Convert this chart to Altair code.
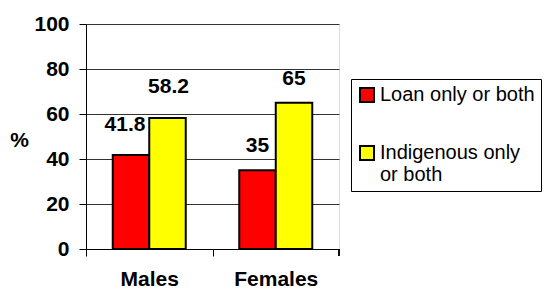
import altair as alt
import pandas as pd

categories = ["Males", "Females"]
series = ["Loan only or both", "Indigenous only or both"]
loan = [41.8, 35]
indigenous = [58.2, 65]
colors = ["#FF0000", "#FFFF00"]
y_ticks = [0, 20, 40, 60, 80, 100]

rows = []
for i, c in enumerate(categories):
    rows.append({"cat": c, "series": series[0], "value": loan[i]})
    rows.append({"cat": c, "series": series[1], "value": indigenous[i]})
df = pd.DataFrame(rows)

FONT = "Arial, Liberation Sans, sans-serif"
FS = 21
W, H = 253, 225
half_band = W / len(categories) / 2

x_enc = alt.X("cat:N", sort=categories,
              scale=alt.Scale(paddingInner=0, paddingOuter=0),
              axis=alt.Axis(title=None, labelAngle=0, labelFont=FONT, labelFontSize=FS,
                            labelFontWeight="bold", labelColor="black", labelPadding=12,
                            tickSize=7, tickColor="black", domainColor="black",
                            tickOffset=-half_band, labelOffset=half_band, grid=False))
xo_enc = alt.XOffset("series:N", sort=series,
                     scale=alt.Scale(paddingInner=0, paddingOuter=0.733))
y_enc = alt.Y("value:Q", scale=alt.Scale(domain=[0, 100], nice=False),
              axis=alt.Axis(values=y_ticks, title="%", titleAngle=0, titleFont=FONT,
                            titleFontSize=FS, titleFontWeight="bold", titleColor="black",
                            titleX=-67, titleY=116, titleAlign="center", titleBaseline="middle",
                            labelFont=FONT, labelFontSize=FS, labelFontWeight="bold",
                            labelColor="black", labelPadding=10, tickSize=7,
                            tickColor="black", domainColor="black", grid=True,
                            gridColor="#333333", gridWidth=1))

base = alt.Chart(df)

bars = base.mark_bar(stroke="black", strokeWidth=2).encode(
    x=x_enc, xOffset=xo_enc, y=y_enc,
    color=alt.Color("series:N", sort=series,
                    scale=alt.Scale(domain=series, range=colors),
                    legend=alt.Legend(title=None, orient="none", legendX=265, legendY=55,
                                      strokeColor="black", padding=6,
                                      symbolType="square", symbolSize=196,
                                      symbolStrokeColor="black", symbolStrokeWidth=2,
                                      symbolOpacity=1,
                                      labelFont=FONT, labelFontSize=20, labelColor="black",
                                      labelLimit=400, labelOffset=3, rowPadding=36,
                                      labelExpr="datum.label == 'Indigenous only or both' ? ['Indigenous only', 'or both'] : datum.label")),
)

def labels(filt, dx, dy):
    return base.transform_filter(filt).mark_text(
        font=FONT, fontSize=FS, fontWeight="bold", color="black",
        baseline="middle", dx=dx, dy=dy
    ).encode(x=x_enc, xOffset=xo_enc, y=y_enc, text=alt.Text("value:Q"))

lab1 = labels((alt.datum.cat == "Males") & (alt.datum.series == series[0]), -6, -30)
lab2 = labels((alt.datum.cat == "Males") & (alt.datum.series == series[1]), 1, -31)
lab3 = labels(alt.datum.cat == "Females", 0, -24)

end_tick = alt.Chart(df).mark_rule(color="black").encode(
    x=alt.value(W), y=alt.value(H), y2=alt.value(H + 7))

chart = alt.layer(bars, lab1, lab2, lab3, end_tick).properties(
    width=W, height=H,
    autosize=alt.AutoSizeParams(type="none"),
    padding={"left": 78, "top": 16, "right": 205, "bottom": 40},
).configure_view(stroke=None).configure(background="white")

chart.save("out.html", embed_options={"renderer": "svg", "actions": False})
